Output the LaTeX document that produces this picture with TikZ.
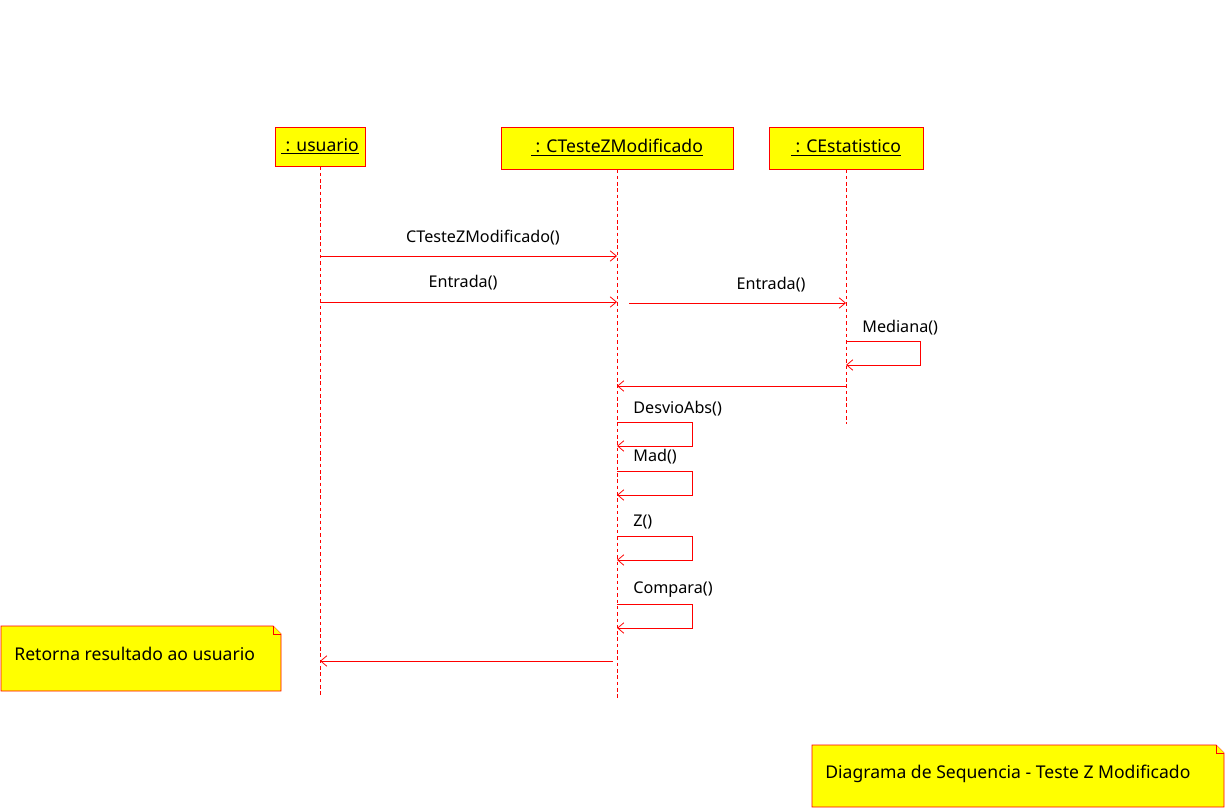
\documentclass[tikz,border=0pt]{standalone}
\usepackage{fontspec}
\setmainfont{Noto Sans}
\usetikzlibrary{arrows.meta}
\definecolor{notefill}{RGB}{255,255,0}
\definecolor{umlred}{RGB}{255,0,0}

\begin{document}
\begin{tikzpicture}[x=0.02cm,y=-0.02cm,font=\fontsize{10}{12}\selectfont]
        \tikzstyle{object}=[draw=umlred,fill=notefill,inner sep=0pt,line width=0.5pt]
        \tikzstyle{lifeline}=[draw=umlred,dash pattern=on 2pt off 1.6pt,line width=0.4pt]
        \tikzstyle{msg}=[draw=umlred,line width=0.45pt,-{Straight Barb[length=3.6pt,width=6pt]}]
        \tikzstyle{lbl}=[inner sep=0pt]
        \tikzstyle{msglbl}=[inner sep=0pt,font=\fontsize{9.2}{11}\selectfont]
        \tikzstyle{notebox}=[draw=umlred,fill=notefill,line width=0.5pt]
       \useasboundingbox (0,0) rectangle (1227,810);
       \begin{scope}
         % objects
         \node [object,minimum width=1.8cm,minimum height=0.78cm] (usuario) at (320,146.5) {\raisebox{-1.5pt}{\underline{\ : usuario}}};
         \node [object,minimum width=4.64cm,minimum height=0.84cm] (cteste) at (617,148) {\raisebox{-1.5pt}{\underline{\ : CTesteZModificado}}};
         \node [object,minimum width=3.08cm,minimum height=0.84cm] (cestat) at (846,148) {\raisebox{-1.5pt}{\underline{\ : CEstatistico}}};
         \coordinate (usuario-end) at (320,695);
         \coordinate (cteste-end) at (617,698);
         \coordinate (cestat-end) at (846,424);
         \draw[lifeline] (usuario) -- (usuario-end);
         \draw[lifeline] (cteste) -- (cteste-end);
         \draw[lifeline] (cestat) -- (cestat-end);

         % messages
         \coordinate (m1a) at (320,256);  \coordinate (m1b) at (617,256);
         \coordinate (m2a) at (320,302);  \coordinate (m2b) at (617,302);
         \coordinate (m3a) at (629,303);  \coordinate (m3b) at (846,303);
         \coordinate (r1a) at (846,386);  \coordinate (r1b) at (617,386);
         \coordinate (r2a) at (613,661);  \coordinate (r2b) at (320,661);
         \draw[msg] (m1a) -- (m1b);
         \draw[msg] (m2a) -- (m2b);
         \draw[msg] (m3a) -- (m3b);
         \draw[msg] (r1a) -- (r1b);
         \draw[msg] (r2a) -- (r2b);
         \node [msglbl] (l1) at (483,238) {CTesteZModificado()};
         \node [msglbl] (l2) at (463,283) {Entrada()};
         \node [msglbl] (l3) at (771,285) {Entrada()};

         % self calls
         \coordinate (s0a) at (846,341); \coordinate (s0b) at (846,365);
         \draw[msg] (s0a) -- ++(74,0) |- (s0b);
         \node [msglbl,anchor=west] (l4) at (862,328) {Mediana()};
         \foreach \ya/\yb/\yl/\txt/\nm in {422/446/409/DesvioAbs()/s1, 471/495/457/Mad()/s2, 536/560/522/Z()/s3, 604/628/590/Compara()/s4}{
           \coordinate (\nm a) at (617,\ya);
           \coordinate (\nm b) at (617,\yb);
           \draw[msg] (\nm a) -- ++(75,0) |- (\nm b);
           \node [msglbl,anchor=west] (\nm-lbl) at (633,\yl) {\txt};
         }

         % notes
         \draw[notebox] (1,626) -- (273,626) -- (281,634) |- (1,691) -- cycle;
         \draw[notebox] (273,626) |- (281,634);
         \node [lbl,anchor=west] (ret) at (14,654) {Retorna resultado ao usuario};
         \draw[notebox] (812,745) -- (1216,745) -- (1224,753) |- (812,807) -- cycle;
         \draw[notebox] (1216,745) |- (1224,753);
         \node [lbl,anchor=west] (title) at (825,774) {Diagrama de Sequencia - Teste Z Modificado};
        \end{scope}
      \end{tikzpicture}
\end{document}
